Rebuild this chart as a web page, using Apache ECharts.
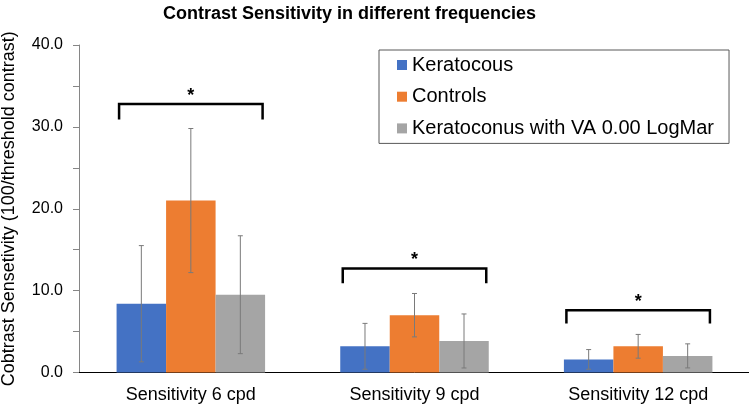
<!DOCTYPE html>
<html>
<head>
<meta charset="utf-8">
<script src="https://cdn.jsdelivr.net/npm/echarts@6/dist/echarts.min.js"></script>
<style>html,body{margin:0;padding:0;background:#fff;}#c{width:749px;height:410px;}</style>
</head>
<body>
<div id="c"></div>
<script>
var categories = ['Sensitivity 6 cpd', 'Sensitivity 9 cpd', 'Sensitivity 12 cpd'];
var seriesNames = ['Keratocous', 'Controls', 'Keratoconus with VA 0.00 LogMar'];
var keratocous = [8.4, 3.2, 1.6];
var controls = [21.0, 7.0, 3.2];
var kcVA = [9.5, 3.85, 2.03];
var keratocousSD = [7.1, 2.8, 1.2];
var controlsSD = [8.8, 2.65, 1.45];
var kcVASD = [7.2, 3.3, 1.47];
var bracketTop = [32.8, 12.7, 7.6];
var bracketLeg = [30.9, 10.9, 6.0];
var yTicks = [0, 10, 20, 30, 40];

var colors = ['#4472C4', '#ED7D31', '#A5A5A5'];
var FONT = 'Liberation Sans, Arial, sans-serif';
var GAP = 0.336;

var means = [keratocous, controls, kcVA];
var sds = [keratocousSD, controlsSD, kcVASD];
var errData = [];
for (var g = 0; g < 3; g++) {
  for (var i = 0; i < categories.length; i++) {
    errData.push([i, g - 1, means[g][i] - sds[g][i], means[g][i] + sds[g][i]]);
  }
}
var brData = categories.map(function (c, i) { return [i, bracketTop[i], bracketLeg[i]]; });

var chart = echarts.init(document.getElementById('c'), null, {renderer: 'canvas'});
chart.setOption({
  animation: false,
  title: {
    text: 'Contrast Sensitivity in different frequencies',
    left: 158, top: 0,
    textStyle: {fontFamily: FONT, fontSize: 18, fontWeight: 'bold', color: '#000'}
  },
  legend: {
    orient: 'vertical', left: 379, top: 50,
    data: seriesNames, icon: 'rect', itemWidth: 10, itemHeight: 10,
    itemGap: 11.7, padding: [5, 15, 5, 18],
    borderColor: '#595959', borderWidth: 1,
    textStyle: {fontFamily: FONT, fontSize: 20, lineHeight: 20, color: '#000'}
  },
  grid: {left: 79, top: 45, width: 671, height: 327.5, containLabel: false, outerBoundsMode: 'none'},
  xAxis: {
    type: 'category', data: categories,
    axisLine: {lineStyle: {color: '#000', width: 1}},
    axisTick: {show: false},
    axisLabel: {fontFamily: FONT, fontSize: 18, color: '#000', margin: 14}
  },
  yAxis: {
    type: 'value', min: yTicks[0], max: yTicks[yTicks.length - 1], interval: 10,
    name: 'Cobtrast Sensetivity (100/threshold contrast)',
    nameLocation: 'middle', nameGap: 61,
    nameTextStyle: {fontFamily: FONT, fontSize: 18, color: '#000'},
    axisLine: {show: true, lineStyle: {color: '#868686'}},
    axisTick: {show: true, inside: false, length: 6, lineStyle: {color: '#868686'}},
    minorTick: {show: true, splitNumber: 2, length: 6, lineStyle: {color: '#868686'}},
    splitLine: {show: false},
    axisLabel: {fontFamily: FONT, fontSize: 16, color: '#000', margin: 16,
      formatter: function (v) { return v.toFixed(1); }}
  },
  series: [
    {name: seriesNames[0], type: 'bar', data: keratocous, itemStyle: {color: colors[0]}, barGap: '0%', barCategoryGap: (GAP * 100) + '%'},
    {name: seriesNames[1], type: 'bar', data: controls, itemStyle: {color: colors[1]}, barGap: '0%', barCategoryGap: (GAP * 100) + '%'},
    {name: seriesNames[2], type: 'bar', data: kcVA, itemStyle: {color: colors[2]}, barGap: '0%', barCategoryGap: (GAP * 100) + '%'},
    {
      type: 'custom', name: 'err', z: 5, data: errData,
      encode: {x: 0, y: [2, 3]},
      renderItem: function (params, api) {
        var band = api.size([1, 0])[0];
        var bw = band * (1 - GAP) / 3;
        var off = api.value(1) * bw;
        var lo = api.coord([api.value(0), api.value(2)]);
        var hi = api.coord([api.value(0), api.value(3)]);
        var x = lo[0] + off;
        var cw = 2.5;
        var st = {stroke: '#7a7a7a', lineWidth: 1};
        return {type: 'group', children: [
          {type: 'line', shape: {x1: x, y1: lo[1], x2: x, y2: hi[1]}, style: st},
          {type: 'line', shape: {x1: x - cw, y1: lo[1], x2: x + cw, y2: lo[1]}, style: st},
          {type: 'line', shape: {x1: x - cw, y1: hi[1], x2: x + cw, y2: hi[1]}, style: st}
        ]};
      }
    },
    {
      type: 'custom', name: 'bracket', z: 6, data: brData,
      encode: {x: 0, y: [1, 2]},
      renderItem: function (params, api) {
        var band = api.size([1, 0])[0];
        var half = band * (1 - GAP) / 2 - 2.5;
        var top = api.coord([api.value(0), api.value(1)]);
        var leg = api.coord([api.value(0), api.value(2)]);
        var cx = top[0];
        var st = {stroke: '#000', lineWidth: 2.5, fill: null, lineJoin: 'miter'};
        return {type: 'group', children: [
          {type: 'polyline', shape: {points: [[cx - half, leg[1]], [cx - half, top[1]], [cx + half, top[1]], [cx + half, leg[1]]]}, style: st},
          {type: 'text', style: {text: '*', x: cx, y: top[1] - 8, align: 'center', verticalAlign: 'middle',
            font: 'bold 18px Liberation Sans, Arial, sans-serif', fill: '#000'}}
        ]};
      }
    }
  ]
});
</script>
</body>
</html>
